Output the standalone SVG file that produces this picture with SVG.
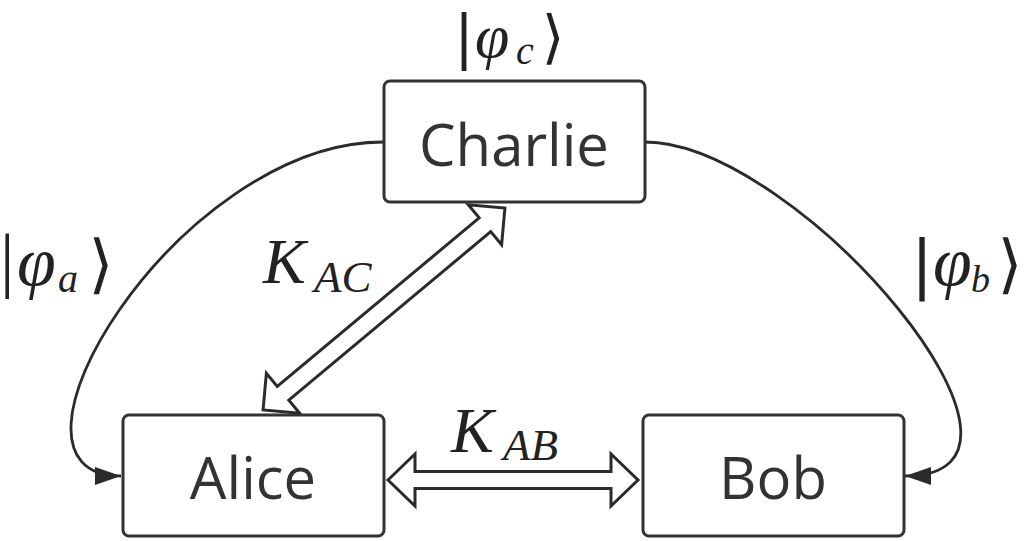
<svg xmlns="http://www.w3.org/2000/svg" width="1025" height="541" viewBox="0 0 1025 541">
<style>
.box{fill:#fff;stroke:#333;stroke-width:3}
.lbl{font-family:"Open Sans","Noto Sans","DejaVu Sans",sans-serif;font-size:58px;fill:#333;text-anchor:middle}
.curve{fill:none;stroke:#2b2b2b;stroke-width:2.8}
.dbl{fill:#fff;stroke:#2b2b2b;stroke-width:3;stroke-linejoin:miter}
.m{font-family:"Liberation Serif","DejaVu Serif",serif;font-style:italic;fill:#222}
.br{font-family:"DejaVu Sans","Noto Sans",sans-serif;fill:#222;text-anchor:middle}
</style>
<defs>
<marker id="ah" markerUnits="userSpaceOnUse" markerWidth="27" markerHeight="19" refX="26" refY="9" orient="auto">
<path d="M0,0 L26,9 L0,18 Z" fill="#2b2b2b"/>
</marker>
</defs>
<g id="connectors">
<path class="curve" d="M383,142 C178,142 -26,476 121,476" marker-end="url(#ah)"/>
<path class="curve" d="M645,142 C798,142 1081,476 905,476" marker-end="url(#ah)"/>
<polygon class="dbl" transform="translate(384,309) rotate(-39.85)" points="-157.5,0 -131.5,-26 -131.5,-9 131.5,-9 131.5,-26 157.5,0 131.5,26 131.5,9 -131.5,9 -131.5,26"/>
<polygon class="dbl" points="388,480 415,454 415,471.5 611,471.5 611,454 638,480 611,506 611,488.5 415,488.5 415,506"/>
</g>
<g id="charlie">
<rect class="box" x="384" y="81" width="261" height="121" rx="6"/>
<text class="lbl" x="514" y="166">Charlie</text>
</g>
<g id="alice">
<rect class="box" x="123" y="415" width="261" height="121" rx="6"/>
<text class="lbl" x="253" y="499">Alice</text>
</g>
<g id="bob">
<rect class="box" x="643" y="415" width="261" height="121" rx="6"/>
<text class="lbl" x="773" y="499">Bob</text>
</g>
<g id="labels">
<text class="br" x="464" y="57" font-size="58">|</text>
<text class="m" x="475" y="57" font-size="62">φ</text>
<text class="m" x="516" y="64" font-size="40">c</text>
<text class="br" x="553" y="57" font-size="58">⟩</text>

<text x="0" y="284" font-size="72" font-family="Liberation Serif, serif" fill="#222">|</text>
<text class="m" x="17" y="285" font-size="70">φ</text>
<text class="m" x="58" y="292" font-size="40">a</text>
<text class="br" x="101" y="286" font-size="64">⟩</text>

<text class="br" x="922" y="286" font-size="64">|</text>
<text class="m" x="933" y="285" font-size="70">φ</text>
<text class="m" x="971" y="292" font-size="38">b</text>
<text class="br" x="1010" y="286" font-size="64">⟩</text>

<text class="m" x="263" y="283" font-size="64">K</text>
<text class="m" x="314" y="292" font-size="45">AC</text>
<text class="m" x="451" y="452" font-size="64">K</text>
<text class="m" x="503" y="460" font-size="45">AB</text>
</g>
</svg>
